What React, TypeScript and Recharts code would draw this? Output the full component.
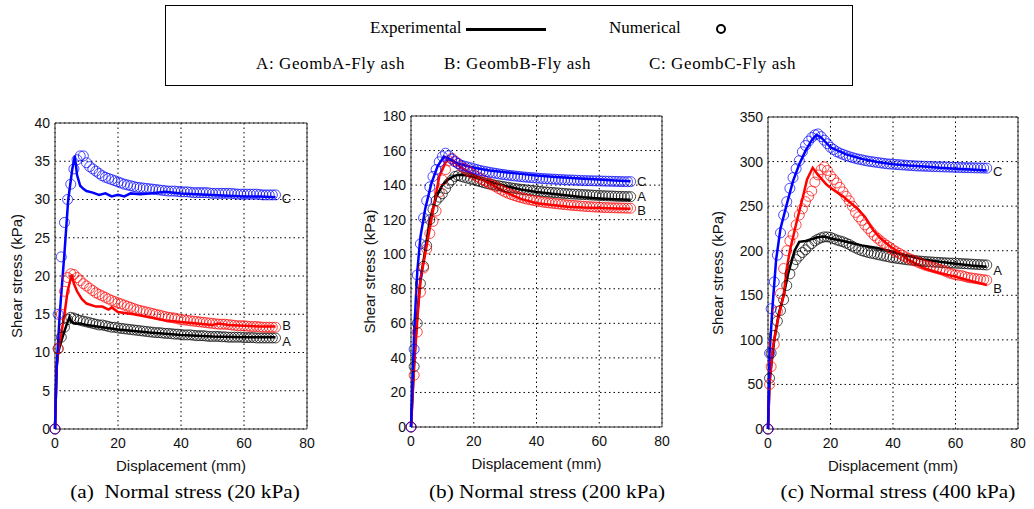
import { CartesianGrid, ComposedChart, Line, ReferenceArea, ReferenceDot, Scatter, XAxis, YAxis } from "recharts"

// displacement ticks shared by all three panels
const xTicks = [0, 20, 40, 60, 80]
const yTicks_a = [0, 5, 10, 15, 20, 25, 30, 35, 40]
const yTicks_b = [0, 20, 40, 60, 80, 100, 120, 140, 160, 180]
const yTicks_c = [0, 50, 100, 150, 200, 250, 300, 350]

// numerical (circles) displacement steps, mm
const numX = [
  0, 1, 2, 3, 4, 5, 6, 7, 8, 9,
  10, 11, 12, 13, 14, 15, 16, 17, 18, 19,
  20, 21, 22, 23, 24, 25, 26, 27, 28, 29,
  30, 31, 32, 33, 34, 35, 36, 37, 38, 39,
  40, 41, 42, 43, 44, 45, 46, 47, 48, 49,
  50, 51, 52, 53, 54, 55, 56, 57, 58, 59,
  60, 61, 62, 63, 64, 65, 66, 67, 68, 69,
  70]
const numX_c = [0, 0.5, ...numX.slice(1)]

// (a) 20 kPa - numerical
const numA_a = [
  0, 10.5, 12, 13.3, 14.3, 14.6, 14.5, 14.3, 14.2, 14.1,
  14.0, 13.9, 13.8, 13.7, 13.6, 13.6, 13.5, 13.4, 13.3, 13.3,
  13.2, 13.15, 13.1, 13.05, 13.0, 12.95, 12.9, 12.85, 12.8, 12.75,
  12.7, 12.65, 12.6, 12.6, 12.55, 12.5, 12.5, 12.45, 12.4, 12.4,
  12.35, 12.3, 12.3, 12.3, 12.25, 12.2, 12.2, 12.2, 12.15, 12.1,
  12.1, 12.1, 12.1, 12.05, 12.05, 12.0, 12.0, 12.0, 12.0, 12.0,
  11.95, 11.95, 11.95, 11.95, 11.9, 11.9, 11.9, 11.9, 11.9, 11.9,
  11.9]
const numB_a = [
  0, 10.5, 15, 18, 19.8, 20.3, 20.2, 19.8, 19.4, 19.0,
  18.7, 18.4, 18.1, 17.8, 17.6, 17.4, 17.2, 17.0, 16.8, 16.65,
  16.5, 16.35, 16.2, 16.05, 15.9, 15.75, 15.6, 15.5, 15.4, 15.3,
  15.2, 15.1, 15.0, 14.9, 14.8, 14.7, 14.6, 14.55, 14.5, 14.4,
  14.3, 14.25, 14.2, 14.15, 14.1, 14.05, 14.0, 13.95, 13.9, 13.85,
  13.8, 13.75, 13.7, 13.7, 13.7, 13.65, 13.6, 13.55, 13.5, 13.5,
  13.5, 13.45, 13.4, 13.4, 13.4, 13.35, 13.3, 13.3, 13.3, 13.3,
  13.3]
const numC_a = [
  0, 15, 22.5, 27, 30, 32, 34, 35.2, 35.7, 35.7,
  34.8, 34.3, 34.0, 33.7, 33.4, 33.1, 32.9, 32.75, 32.6, 32.45,
  32.3, 32.15, 32.0, 31.9, 31.8, 31.7, 31.6, 31.55, 31.5, 31.45,
  31.4, 31.35, 31.3, 31.25, 31.2, 31.15, 31.1, 31.1, 31.1, 31.05,
  31.0, 31.0, 31.0, 30.95, 30.9, 30.9, 30.9, 30.9, 30.9, 30.85,
  30.8, 30.8, 30.8, 30.8, 30.8, 30.8, 30.8, 30.75, 30.7, 30.7,
  30.7, 30.7, 30.7, 30.7, 30.7, 30.65, 30.6, 30.6, 30.6, 30.6,
  30.6]

// (b) 200 kPa - numerical
const numA_b = [
  0, 35, 60, 83, 93, 105, 120, 126, 131, 133,
  135, 138, 141, 143, 145, 145.5, 145, 144.5, 144, 143.5,
  143, 142.5, 142, 141.5, 141, 140.6, 140.3, 139.9, 139.6, 139.3,
  139, 138.7, 138.4, 138.1, 137.9, 137.6, 137.4, 137.2, 137, 136.8,
  136.6, 136.4, 136.2, 136.05, 135.9, 135.75, 135.6, 135.45, 135.3, 135.15,
  135, 134.9, 134.8, 134.7, 134.6, 134.5, 134.4, 134.3, 134.2, 134.1,
  134, 133.9, 133.8, 133.75, 133.7, 133.6, 133.5, 133.45, 133.4, 133.35,
  133.3]
const numB_b = [
  0, 30, 55, 78, 92, 103, 112, 119, 125, 136,
  143, 149, 154, 155.5, 154, 152.5, 151, 149.7, 148.5, 147.2,
  146, 145, 144, 143, 142, 141, 140, 139, 138, 137,
  136, 135.2, 134.5, 133.9, 133.3, 132.8, 132.3, 131.9, 131.5, 131.1,
  130.8, 130.5, 130.2, 129.9, 129.7, 129.5, 129.3, 129.1, 128.9, 128.7,
  128.5, 128.35, 128.2, 128.05, 127.9, 127.75, 127.6, 127.5, 127.4, 127.3,
  127.2, 127.1, 127, 126.95, 126.9, 126.85, 126.8, 126.75, 126.7, 126.65,
  126.6]
const numC_b = [
  0, 45, 88, 106, 121, 131, 139, 145, 149, 153.5,
  156.5, 158.5, 157, 155, 153.5, 152.5, 151.5, 151, 150.5, 150,
  149.5, 149, 148.5, 148.1, 147.8, 147.4, 147.1, 146.8, 146.5, 146.2,
  146, 145.7, 145.5, 145.3, 145.1, 144.9, 144.7, 144.55, 144.4, 144.25,
  144.1, 143.95, 143.8, 143.7, 143.6, 143.5, 143.4, 143.3, 143.2, 143.1,
  143, 142.95, 142.9, 142.8, 142.7, 142.65, 142.6, 142.55, 142.5, 142.45,
  142.4, 142.35, 142.3, 142.25, 142.2, 142.15, 142.1, 142.05, 142, 142,
  142]

// (c) 400 kPa - numerical (first two values at 0 and 0.5 mm)
const numA_c = [
  0, 57,
  85, 105, 121, 133, 145, 161, 174, 184, 190,
  194, 198, 201, 205, 208, 211, 213, 214.5, 215.5, 215.5,
  215, 213.5, 212, 211, 210, 208.5, 207, 205, 203, 201.5,
  200, 199, 198, 197.2, 196.5, 195.7, 195, 194.2, 193.5, 192.7,
  192, 191.5, 191, 190.5, 190, 189.6, 189.3, 189, 188.6, 188.3,
  188, 187.7, 187.5, 187.2, 187, 186.8, 186.6, 186.4, 186.2, 186.1,
  186, 185.8, 185.6, 185.4, 185.2, 185, 184.8, 184.6, 184.4, 184.2,
  184]
const numB_c = [
  0, 50,
  70, 95, 132, 152, 180, 200, 211, 218, 229,
  240, 247, 255, 261, 267, 277, 285, 291, 294, 290,
  284, 280, 276, 271, 266, 261, 256, 250, 243, 238,
  234, 229, 225, 221, 217, 214, 211, 208.5, 206, 203.5,
  201, 199, 197, 195, 193, 191.5, 190, 188.5, 187, 185.5,
  184, 183, 182, 181, 180, 179, 178, 176.5, 175, 174,
  173, 172.5, 172, 171, 170, 169.5, 169, 168.5, 168, 167.5,
  167]
const numC_c = [
  0, 85,
  135, 165, 195, 220, 240, 255, 270, 282, 292,
  301, 311, 318, 323, 327, 330, 331, 328, 324, 320,
  316, 313.5, 311, 309.5, 308, 306.7, 305.5, 304.5, 303.5, 302.7,
  302, 301.2, 300.5, 300, 299.5, 299, 298.5, 298, 297.5, 297.2,
  297, 296.7, 296.5, 296.2, 296, 295.7, 295.5, 295.2, 295, 294.9,
  294.8, 294.6, 294.5, 294.3, 294.2, 294.1, 294, 293.9, 293.8, 293.6,
  293.5, 293.4, 293.3, 293.2, 293.1, 293.05, 293, 292.9, 292.8, 292.7,
  292.6]

// experimental curves [displacement, shear stress]
const expA_a = [[0, 0], [0.5, 8], [1, 10], [2, 11.5], [3, 12.8], [4, 14], [4.6, 14.6], [5.2, 14], [6, 13.8], [8, 13.8], [10, 13.6], [15, 13.3], [20, 13], [25, 12.8], [30, 12.6], [40, 12.3], [50, 12.1], [60, 12], [70, 12]]
const expB_a = [[0, 0], [0.5, 8], [1, 10.2], [2, 12.5], [3, 15], [4, 18], [5.3, 20.2], [6, 19], [7, 18], [8.5, 17], [10, 16.4], [13, 16], [15, 16], [17, 15.6], [18, 15.9], [20, 15.3], [25, 15], [30, 14.6], [35, 14.2], [40, 14], [45, 13.8], [50, 13.6], [52, 13.8], [55, 13.6], [60, 13.5], [65, 13.4], [70, 13.4]]
const expC_a = [[0, 0], [0.5, 8], [1.5, 15], [3, 23], [4.2, 30], [5.5, 34], [6.3, 35.7], [7, 33.2], [8, 31.8], [9, 31.4], [10, 31.1], [12, 30.9], [14, 30.6], [16, 30.8], [18, 30.4], [20, 30.6], [22, 30.4], [24, 30.8], [27, 30.7], [30, 30.8], [35, 31], [40, 30.8], [45, 30.7], [50, 30.6], [55, 30.5], [60, 30.4], [65, 30.4], [70, 30.3]]

const expA_b = [[0, 0], [1, 38], [2, 65], [3, 85], [4.5, 102], [6, 120], [8, 133], [10, 140], [12, 143.5], [14, 145.5], [16, 146], [18, 145.5], [20, 144.5], [25, 142], [30, 139.5], [35, 137.5], [40, 136], [45, 135], [50, 134], [55, 133], [60, 132.3], [65, 131.8], [70, 131.5]]
const expB_b = [[0, 0], [1, 35], [2, 62], [3, 85], [5, 105], [7, 125], [9, 145], [11, 153], [12, 155], [14, 153], [16, 150], [20, 146], [25, 141], [30, 136], [35, 132], [40, 129.5], [45, 128.5], [50, 127.5], [55, 127], [60, 126.8], [65, 126.5], [70, 126.3]]
const expC_b = [[0, 0], [1, 55], [2, 90], [3, 110], [4.5, 126], [6.5, 141], [8.5, 151], [10.5, 156.5], [12, 155.5], [15, 152.5], [20, 150], [25, 148.5], [30, 147.5], [35, 146.5], [40, 145.5], [45, 144.8], [50, 144.2], [55, 143.7], [60, 143.2], [65, 142.6], [70, 142.2]]

const expA_c = [[0, 0], [0.5, 55], [2, 100], [3.5, 130], [5, 150], [6.5, 175], [8.5, 200], [10, 210], [12, 211], [14, 213], [16, 215], [18, 216], [20, 214], [25, 210], [30, 206], [35, 203], [40, 199], [45, 194], [50, 190], [55, 187.5], [60, 185.5], [65, 183.5], [70, 182]]
const expB_c = [[0, 0], [0.5, 50], [1.5, 90], [3, 120], [5, 150], [6, 180], [7, 200], [9, 230], [11, 258], [12.5, 280], [14.3, 293], [16, 285], [18.8, 274], [21, 268], [24, 261], [26, 255], [28.4, 248], [31, 238], [33.7, 223], [36, 214], [39, 205], [42, 198], [44.8, 190], [47, 186], [50.2, 180], [53, 177], [56, 174], [59.8, 171], [65, 166], [70, 161.6]]
const expC_c = [[0, 0], [0.5, 85], [1.5, 140], [2.6, 190], [4, 225], [6, 252], [8, 278], [10, 297], [12, 312], [14, 324], [15.5, 330], [17, 327], [20, 316], [25, 308], [30, 303], [35, 299.5], [40, 297], [45, 295.5], [50, 294.5], [55, 293], [60, 292], [65, 291], [70, 290]]

// curve tags at the right end
const tags_a = [["C", 30.1], ["B", 13.6], ["A", 11.5]]
const tags_b = [["C", 142], ["A", 133.6], ["B", 125.6]]
const tags_c = [["C", 289], ["A", 178], ["B", 158]]

const COLORS = ["#000000", "#ff0000", "#0000ff"]

const zip = (xs: number[], ys: number[]) => xs.map((x, i) => ({ x, y: ys[i] }))
const pairs = (p: number[][]) => p.map(([x, y]) => ({ x, y }))

const ring = (color: string) => (props: any) => (
  <circle cx={props.cx} cy={props.cy} r={5} fill="none" stroke={color} strokeWidth={1} strokeOpacity={0.7} />
)

const Panel = ({ pos, margin, yWidth, yMax, yTicks, exp, xs, num, tags }: any) => (
  <div style={{ position: "absolute", left: pos[0], top: pos[1] }}>
    <ComposedChart width={pos[2]} height={pos[3]} margin={margin}>
      <CartesianGrid stroke="#000" strokeDasharray="1.5 3" />
      <XAxis type="number" dataKey="x" domain={[0, 80]} ticks={xTicks} interval={0} height={42}
        axisLine={false} tickLine={false} tickMargin={3} tick={{ fontSize: 14, fill: "#111" }}
        label={{ value: "Displacement (mm)", position: "insideBottom", offset: 0, fontSize: 15, fill: "#111" }} />
      <YAxis type="number" dataKey="y" domain={[0, yMax]} ticks={yTicks} interval={0} width={yWidth}
        axisLine={false} tickLine={false} tickSize={3} tickMargin={2} tick={{ fontSize: 14, fill: "#111" }}
        label={{ value: "Shear stress (kPa)", angle: -90, position: "insideLeft", offset: 5, fontSize: 15, fill: "#111", style: { textAnchor: "middle" } }} />
      <ReferenceArea x1={0} x2={80} y1={0} y2={yMax} fill="none" stroke="#333" strokeWidth={1} />
      {num.map((ys: number[], i: number) => (
        <Scatter key={"n" + i} data={zip(xs, ys)} shape={ring(COLORS[i])} isAnimationActive={false} />
      ))}
      {exp.map((p: number[][], i: number) => (
        <Line key={"e" + i} data={pairs(p)} dataKey="y" type="linear" stroke={COLORS[i]} strokeWidth={2.5} dot={false} isAnimationActive={false} />
      ))}
      {tags.map(([t, y]: any) => (
        <ReferenceDot key={t} x={73.5} y={y} r={1} fill="none" stroke="none"
          label={{ value: t, position: "center", fontSize: 13, fill: "#111" }} />
      ))}
    </ComposedChart>
  </div>
)

const serif = { fontFamily: "'Liberation Serif', 'Times New Roman', serif", color: "#000" }
const row2 = { position: "absolute" as const, top: 48, letterSpacing: 0.6 }

export default function App() {
  return (
    <div style={{ position: "absolute", left: 0, top: 0, width: 1034, height: 509, background: "#fff", fontFamily: "'Liberation Sans', Arial, sans-serif" }}>
      <div style={{ ...serif, position: "absolute", left: 165, top: 5, width: 686, height: 79, border: "1px solid #000", fontSize: 17 }}>
        <span style={{ position: "absolute", left: 204, top: 12 }}>Experimental</span>
        <div style={{ position: "absolute", left: 300, top: 22, width: 80, height: 3, background: "#000" }} />
        <span style={{ position: "absolute", left: 443, top: 12 }}>Numerical</span>
        <div style={{ position: "absolute", left: 550, top: 18, width: 6, height: 6, border: "2px solid #000", borderRadius: "50%" }} />
        <span style={{ ...row2, left: 90 }}>A: GeombA-Fly ash</span>
        <span style={{ ...row2, left: 278 }}>B: GeombB-Fly ash</span>
        <span style={{ ...row2, left: 483 }}>C: GeombC-Fly ash</span>
      </div>

      <Panel pos={[0, 100, 330, 380]} margin={{ top: 23, right: 23, bottom: 9, left: 12 }} yWidth={43}
        yMax={40} yTicks={yTicks_a} exp={[expA_a, expB_a, expC_a]} xs={numX} num={[numA_a, numB_a, numC_a]} tags={tags_a} />
      <Panel pos={[350, 100, 340, 380]} margin={{ top: 16, right: 28, bottom: 11, left: 15 }} yWidth={46}
        yMax={180} yTicks={yTicks_b} exp={[expA_b, expB_b, expC_b]} xs={numX} num={[numA_b, numB_b, numC_b]} tags={tags_b} />
      <Panel pos={[700, 100, 334, 380]} margin={{ top: 17, right: 16, bottom: 9, left: 13 }} yWidth={55}
        yMax={350} yTicks={yTicks_c} exp={[expA_c, expB_c, expC_c]} xs={numX_c} num={[numA_c, numB_c, numC_c]} tags={tags_c} />

      {[["(a)  Normal stress (20 kPa)", 185], ["(b) Normal stress (200 kPa)", 547], ["(c) Normal stress (400 kPa)", 898]].map(([t, x]: any) => (
        <div key={t} style={{ ...serif, position: "absolute", left: x - 150, top: 482, width: 300, textAlign: "center", fontSize: 18, whiteSpace: "pre", transform: "scaleX(1.18)" }}>{t}</div>
      ))}
    </div>
  )
}
